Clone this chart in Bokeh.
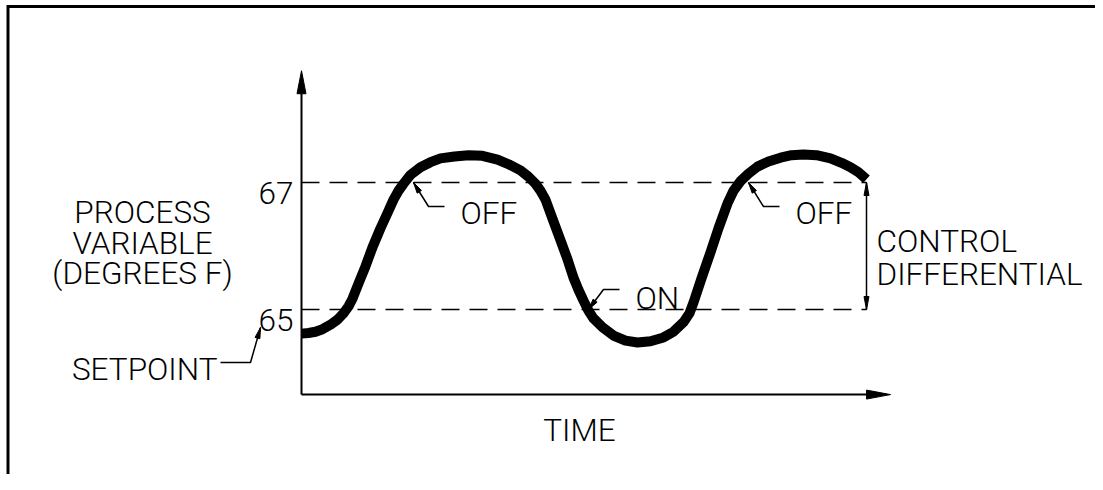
import math
from bokeh.plotting import figure
from bokeh.models import Range1d
from bokeh.core.properties import value
from bokeh.embed import file_html
from bokeh.resources import INLINE

# ---------------- data ----------------
time = [0.0, 0.7, 1.4, 2.1, 2.9, 3.6, 4.2, 4.7, 5.1, 5.7,
        6.4, 7.1, 7.9, 8.6, 9.2, 9.7, 10.2, 10.9, 11.9, 12.9,
        13.9, 15.3, 16.7, 18.1, 19.6, 20.8, 21.9, 22.7, 23.4, 23.9,
        24.4, 25.1, 25.9, 26.6, 27.2, 27.7, 28.2, 28.7, 29.2, 30.1,
        31.2, 32.4, 33.6, 34.9, 36.2, 37.2, 38.2, 38.8, 39.2, 40.0,
        40.9, 41.7, 42.6, 43.2, 43.9, 44.7, 45.6, 46.7, 47.9, 49.0,
        50.2, 51.5, 52.9, 54.0, 54.9, 55.7, 56.5]
temp = [64.62, 64.63, 64.65, 64.69, 64.76, 64.84, 64.94, 65.05, 65.17, 65.41,
        65.68, 65.98, 66.28, 66.52, 66.73, 66.87, 66.98, 67.12, 67.24, 67.32,
        67.38, 67.41, 67.43, 67.42, 67.36, 67.28, 67.19, 67.09, 66.98, 66.87,
        66.73, 66.43, 66.09, 65.79, 65.50, 65.31, 65.14, 64.98, 64.86, 64.72,
        64.59, 64.51, 64.48, 64.50, 64.56, 64.65, 64.80, 64.94, 65.11, 65.49,
        65.90, 66.28, 66.67, 66.87, 67.02, 67.14, 67.25, 67.33, 67.39, 67.43,
        67.44, 67.43, 67.38, 67.31, 67.24, 67.16, 67.05]

tick_values = [65, 67]
tick_labels = ["65", "67"]
setpoint = 65
cut_out = 67

event_labels = ["OFF", "ON", "OFF"]
event_times = [11.2, 28.7, 44.7]
event_temps = [67, 65, 67]

y_title = ["PROCESS", "VARIABLE", "(DEGREES F)"]
x_title = "TIME"
setpoint_label = "SETPOINT"
diff_label = ["CONTROL", "DIFFERENTIAL"]

# ---------------- layout ----------------
W, H = 1095, 474
PX_T = 10.0      # pixels per time unit
PX_F = 63.5      # pixels per degree
X0_PX, Y65_PX = 301, 309   # where t=0 and 65 F sit on the canvas
x_start = -X0_PX / PX_T
y_top = 65 + Y65_PX / PX_F
axis_floor = 63.66
axis_top = 68.76
time_end = 58.9

FONT = value("Roboto Light, Roboto")
FS = "31.5px"
INK = "black"


def to_px(t, T):
    return ((t - x_start) * PX_T, (y_top - T) * PX_F)


def to_data(x, y):
    return (x_start + x / PX_T, y_top - y / PX_F)


def head(tip_t, tip_T, ux, uy, length, width):
    """Filled triangular arrow head; (ux, uy) = pointing direction in screen px."""
    n = math.hypot(ux, uy)
    ux, uy = ux / n, uy / n
    tx, ty = to_px(tip_t, tip_T)
    bx, by = tx - ux * length, ty - uy * length
    nx, ny = -uy, ux
    pts = [(tx, ty), (bx + nx * width / 2, by + ny * width / 2),
           (bx - nx * width / 2, by - ny * width / 2)]
    d = [to_data(x, y) for x, y in pts]
    return [q[0] for q in d], [q[1] for q in d]


p = figure(width=W, height=H,
           x_range=Range1d(x_start, x_start + W / PX_T),
           y_range=Range1d(y_top - H / PX_F, y_top),
           x_axis_location=None, y_axis_location=None,
           output_backend="svg", toolbar_location=None, min_border=0)
p.grid.visible = False
p.outline_line_color = None
p.background_fill_color = "white"
p.border_fill_color = "white"

heads_x, heads_y = [], []

# frame (left and top rules) as one L-shaped polyline
frame = [to_data(7.5, H), to_data(7.5, 6), to_data(W, 6)]
p.line([q[0] for q in frame], [q[1] for q in frame],
       line_color=INK, line_width=3, line_join="miter")

# axes
p.segment(x0=[0, 0], y0=[axis_floor, axis_floor], x1=[0, time_end - 1.0],
          y1=[axis_top - 0.2, axis_floor], line_color=INK, line_width=2)
hx, hy = head(0, axis_top, 0, -1, 23, 9)
heads_x.append(hx); heads_y.append(hy)
hx, hy = head(time_end, axis_floor, 1, 0, 24, 9)
heads_x.append(hx); heads_y.append(hy)

# setpoint / cut-out dashed lines
p.segment(x0=[0] * len(tick_values), y0=tick_values,
          x1=[time[-1]] * len(tick_values), y1=tick_values,
          line_color=INK, line_width=1.5, line_dash="18 10")

# tick labels
p.text(x=[0] * len(tick_values), y=tick_values, text=tick_labels,
       x_offset=-8, y_offset=10, text_font=FONT, text_font_size=FS,
       text_align="right", text_baseline="alphabetic", text_color=INK)

# process curve
p.line(time, temp, line_color=INK, line_width=10, line_join="round")

# control differential arrow
xd = time[-1]
p.segment(x0=[xd], y0=[setpoint], x1=[xd], y1=[cut_out], line_color=INK, line_width=1.5)
hx, hy = head(xd, cut_out, 0, -1, 13, 5)
heads_x.append(hx); heads_y.append(hy)
hx, hy = head(xd, setpoint, 0, 1, 13, 5)
heads_x.append(hx); heads_y.append(hy)
p.text(x=[xd, xd], y=[(setpoint + cut_out) / 2] * 2, text=diff_label,
       x_offset=10, y_offset=[-5, 28], text_font=FONT, text_font_size=FS,
       text_align="left", text_baseline="alphabetic", text_color=INK)

# event leaders (OFF / ON)
lead_xs, lead_ys = [], []
txt_x, txt_y, txt_dy = [], [], []
for t, T, lab in zip(event_times, event_temps, event_labels):
    tx, ty_ = to_px(t, T)
    dy = 24 if lab == "OFF" else -20
    pts = [(tx, ty_), (tx + 15, ty_ + dy), (tx + 31, ty_ + dy)]
    d = [to_data(a, b) for a, b in pts]
    lead_xs.append([q[0] for q in d]); lead_ys.append([q[1] for q in d])
    hx, hy = head(t, T, -15, -dy, 11, 5)
    heads_x.append(hx); heads_y.append(hy)
    txt_x.append(t); txt_y.append(T); txt_dy.append(31 if lab == "OFF" else -11)
p.multi_line(lead_xs, lead_ys, line_color=INK, line_width=1.5)
p.text(x=txt_x, y=txt_y, text=event_labels, x_offset=47, y_offset=txt_dy,
       text_font=FONT, text_font_size=FS, text_align="left",
       text_baseline="alphabetic", text_color=INK)

# y title
tx0, _ = to_data(142, 0)
p.text(x=[tx0] * 3, y=[to_data(0, yy)[1] for yy in (212, 243, 273)], text=y_title,
       text_font=FONT, text_font_size=FS, text_align="center",
       text_baseline="alphabetic", text_color=INK)

# x title
p.text(x=[to_data(579, 0)[0]], y=[axis_floor], text=[x_title], y_offset=36,
       text_font=FONT, text_font_size=FS, text_align="center",
       text_baseline="alphabetic", text_color=INK)

# setpoint label with leader
sx, sy = to_data(217, 369)
p.text(x=[sx], y=[sy], text=[setpoint_label], text_font=FONT, text_font_size=FS,
       text_align="right", text_baseline="alphabetic", text_color=INK)
sp = [to_data(a, b) for a, b in [(220, 362), (250, 362), (260, 327)]]
p.line([q[0] for q in sp], [q[1] for q in sp], line_color=INK, line_width=1.5)
tip = to_data(260, 327)
hx, hy = head(tip[0], tip[1], 10, -35, 11, 5)
heads_x.append(hx); heads_y.append(hy)

p.patches(heads_x, heads_y, fill_color=INK, line_color=INK, line_width=1)

open("out.html", "w").write(file_html(p, INLINE))
